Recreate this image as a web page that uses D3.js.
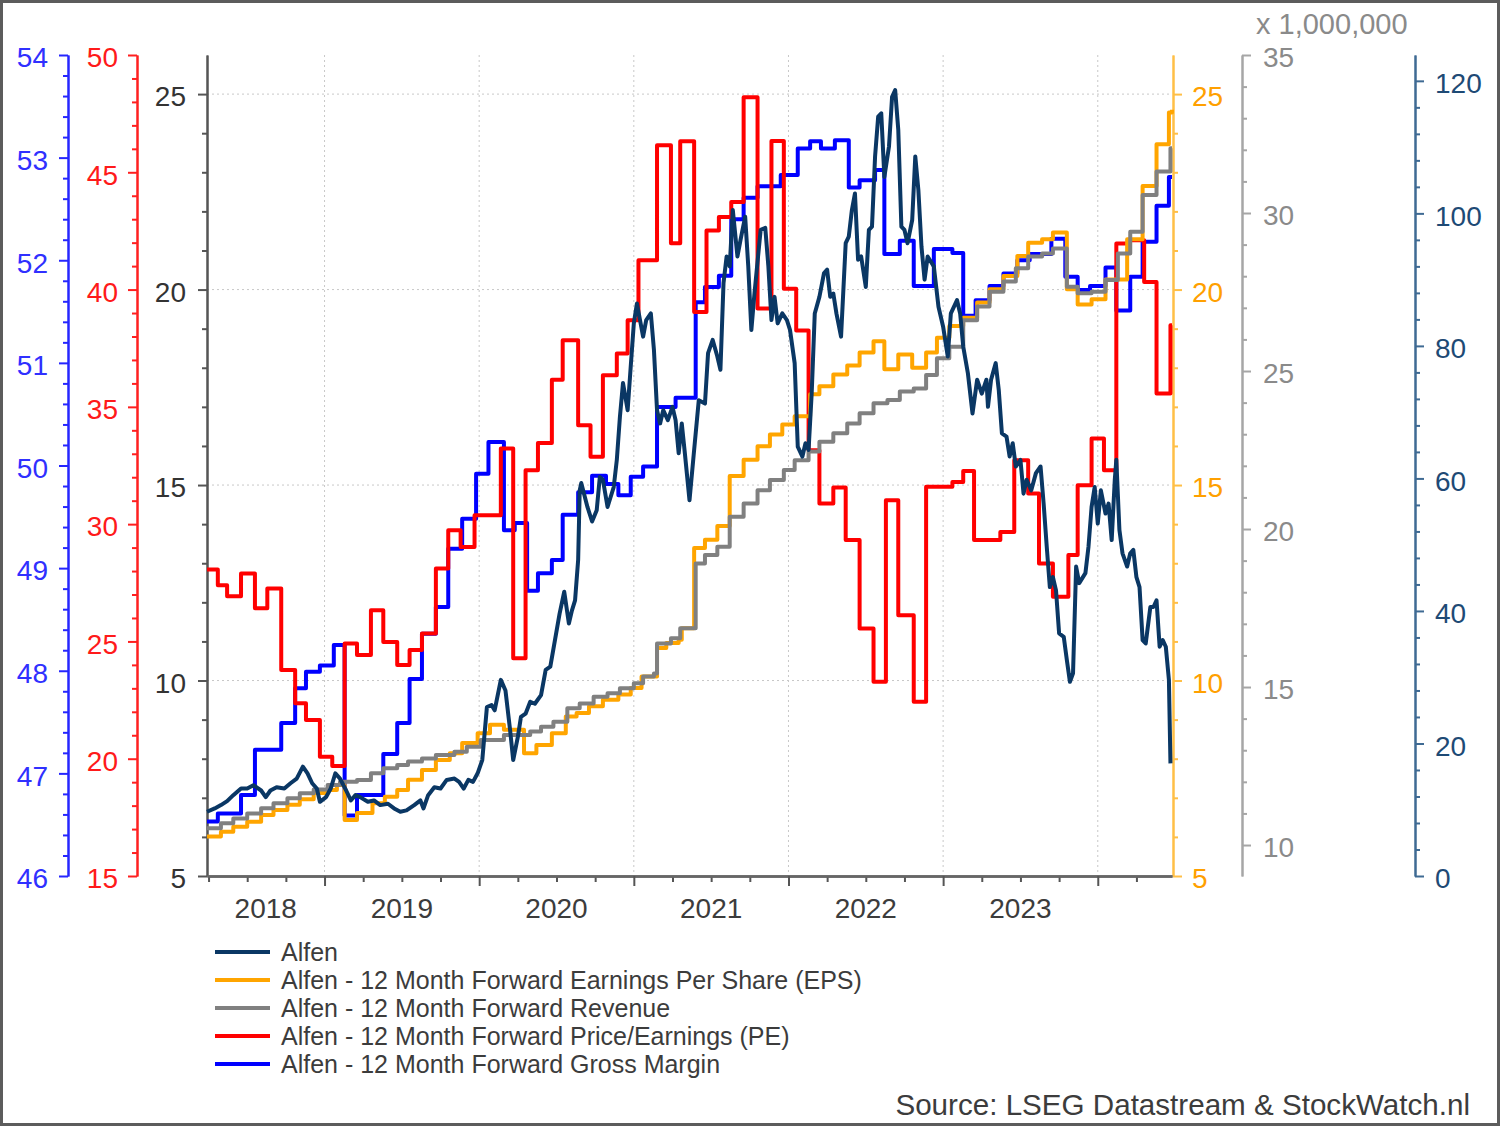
<!DOCTYPE html>
<html lang="en">
<head>
<meta charset="UTF-8">
<title>Alfen</title>
<script src="https://cdn.jsdelivr.net/npm/d3@7"></script>
<style>
body { margin: 0; background: #fff; }
svg text { font-family: "Liberation Sans", Arial, sans-serif; }
</style>
</head>
<body>
<script>
// values: [decimal year, value]
var alfenPrice = [
[2018.24,9.7],[2018.29,10.2],[2018.33,10.7],[2018.37,11.3],[2018.41,12.2],[2018.46,13.2],[2018.50,13.2],[2018.54,13.7],[2018.59,12.9],[2018.62,11.9],[2018.65,12.9],[2018.69,13.4],[2018.74,13.2],[2018.78,14.0],[2018.82,14.7],[2018.86,16.5],[2018.89,15.5],[2018.92,14.0],[2018.95,13.2],[2018.97,11.2],
[2019.01,11.9],[2019.04,13.2],[2019.07,15.5],[2019.10,14.7],[2019.14,12.9],[2019.17,11.4],[2019.20,12.2],[2019.23,11.9],[2019.28,11.2],[2019.32,11.4],[2019.36,10.7],[2019.41,10.9],[2019.45,10.2],[2019.49,9.7],[2019.53,9.9],[2019.58,10.7],[2019.62,11.4],[2019.64,10.2],[2019.67,12.2],[2019.71,13.4],[2019.75,13.2],[2019.79,14.5],[2019.84,14.7],[2019.87,14.2],[2019.90,13.2],[2019.93,14.5],[2019.96,14.2],[2019.99,15.5],
[2020.02,17.5],[2020.05,25.5],[2020.08,25.8],[2020.10,25.0],[2020.14,29.6],[2020.17,28.0],[2020.20,22.0],[2020.22,17.5],[2020.25,21.0],[2020.27,24.0],[2020.30,24.5],[2020.33,26.3],[2020.36,26.0],[2020.40,27.3],[2020.43,31.1],[2020.46,31.6],[2020.49,35.6],[2020.52,39.6],[2020.55,42.9],[2020.58,38.1],[2020.60,40.1],[2020.62,41.6],[2020.64,47.7],[2020.65,58.2],[2020.66,59.3],[2020.70,55.7],[2020.73,53.5],[2020.76,55.2],[2020.78,60.2],[2020.80,59.8],[2020.83,55.7],[2020.85,57.2],[2020.87,58.7],[2020.89,62.8],[2020.91,69.3],[2020.93,74.4],[2020.96,70.3],[2020.98,76.9],
[2021.00,83.4],[2021.02,86.4],[2021.04,83.9],[2021.06,81.4],[2021.08,83.9],[2021.11,84.9],[2021.13,79.4],[2021.15,70.3],[2021.17,68.3],[2021.19,70.3],[2021.22,68.8],[2021.25,70.8],[2021.27,68.8],[2021.29,63.8],[2021.31,68.3],[2021.33,63.8],[2021.36,56.7],[2021.39,64.3],[2021.42,71.8],[2021.46,71.3],[2021.48,78.9],[2021.51,80.9],[2021.54,78.4],[2021.56,76.4],[2021.58,89.5],[2021.60,93.5],[2021.62,92.0],[2021.64,100.5],[2021.67,93.5],[2021.69,96.0],[2021.72,99.5],[2021.74,92.0],[2021.76,82.4],[2021.78,87.9],[2021.82,97.5],[2021.85,97.8],[2021.87,92.0],[2021.89,83.9],[2021.91,87.4],[2021.93,83.4],[2021.96,84.9],[2021.99,83.9],
[2022.01,82.4],[2022.04,77.4],[2022.06,64.8],[2022.09,63.3],[2022.11,65.3],[2022.13,64.3],[2022.15,72.8],[2022.17,84.9],[2022.20,87.4],[2022.23,91.0],[2022.25,91.5],[2022.27,87.4],[2022.29,87.9],[2022.31,84.9],[2022.34,81.4],[2022.37,95.5],[2022.39,96.5],[2022.41,100.5],[2022.43,103.0],[2022.45,93.0],[2022.47,93.5],[2022.50,88.9],[2022.52,97.5],[2022.54,98.0],[2022.56,108.6],[2022.58,114.6],[2022.60,115.1],[2022.62,105.5],[2022.65,110.1],[2022.67,117.6],[2022.69,118.6],[2022.71,112.6],[2022.73,98.0],[2022.75,97.5],[2022.77,95.5],[2022.80,99.0],[2022.82,108.6],[2022.84,103.5],[2022.86,95.0],[2022.88,90.0],[2022.90,93.5],[2022.94,92.0],[2022.97,85.9],
[2023.00,82.9],[2023.03,78.4],[2023.05,84.9],[2023.09,86.9],[2023.11,84.9],[2023.13,79.9],[2023.16,75.9],[2023.19,69.8],[2023.22,74.9],[2023.25,72.8],[2023.28,74.9],[2023.29,70.8],[2023.31,74.9],[2023.34,77.4],[2023.36,73.3],[2023.38,66.8],[2023.41,66.3],[2023.43,63.3],[2023.45,65.3],[2023.47,61.8],[2023.50,62.8],[2023.52,57.7],[2023.54,59.8],[2023.57,58.2],[2023.60,60.8],[2023.63,61.8],[2023.65,56.2],[2023.67,49.7],[2023.69,43.6],[2023.71,45.1],[2023.73,43.1],[2023.75,36.6],[2023.78,36.1],[2023.80,32.6],[2023.82,29.3],[2023.84,30.6],[2023.86,46.7],[2023.88,44.2],[2023.92,45.7],[2023.94,49.7],[2023.96,55.7],[2023.98,58.7],
[2024.00,53.2],[2024.02,58.2],[2024.05,54.7],[2024.07,56.2],[2024.09,50.7],[2024.11,59.8],[2024.12,62.8],[2024.14,52.2],[2024.16,48.7],[2024.19,46.7],[2024.21,48.7],[2024.23,49.2],[2024.25,45.1],[2024.27,43.6],[2024.29,35.6],[2024.31,35.1],[2024.34,40.6],[2024.36,40.6],[2024.38,41.6],[2024.40,34.6],[2024.42,35.6],[2024.44,34.6],[2024.46,29.6],[2024.47,17.0]
];

var epsForward = [
[2018.24,6.01],[2018.33,6.13],[2018.41,6.26],[2018.50,6.39],[2018.59,6.56],[2018.67,6.69],[2018.76,6.82],[2018.84,6.96],[2018.93,7.12],[2019.02,7.20],[2019.08,7.33],[2019.13,6.43],[2019.21,6.61],[2019.31,6.86],[2019.39,7.03],[2019.47,7.20],[2019.54,7.46],[2019.63,7.71],[2019.72,7.97],[2019.81,8.14],[2019.89,8.40],[2019.99,8.65],
[2020.07,8.87],[2020.16,8.74],[2020.29,8.14],[2020.37,8.35],[2020.47,8.65],[2020.56,9.08],[2020.63,9.17],[2020.71,9.34],[2020.80,9.51],[2020.90,9.64],[2020.98,9.81],[2021.05,10.10],[2021.15,10.83],[2021.21,10.96],[2021.29,11.04],[2021.31,11.34],[2021.39,13.39],[2021.46,13.60],[2021.54,13.95],[2021.62,15.23],[2021.71,15.65],[2021.80,15.99],[2021.88,16.29],[2021.96,16.55],
[2022.04,16.76],[2022.14,17.32],[2022.20,17.53],[2022.29,17.83],[2022.38,18.06],[2022.46,18.39],[2022.55,18.68],[2022.62,17.96],[2022.71,18.34],[2022.80,18.00],[2022.89,18.39],[2022.96,18.77],[2023.04,19.07],[2023.13,19.28],[2023.22,19.67],[2023.30,20.01],[2023.39,20.35],[2023.48,20.86],[2023.55,21.20],[2023.64,21.29],[2023.71,21.46],[2023.80,20.01],[2023.87,19.62],[2023.96,19.75],
[2024.05,20.26],[2024.19,21.29],[2024.29,22.65],[2024.38,23.72],[2024.46,24.53],[2024.48,24.60]
];

// revenue in millions
var revenueForward = [
[2018.24,10.53],[2018.33,10.69],[2018.41,10.84],[2018.50,11.00],[2018.59,11.16],[2018.67,11.32],[2018.76,11.48],[2018.84,11.64],[2018.93,11.76],[2019.02,11.90],[2019.10,12.00],[2019.21,12.06],[2019.30,12.27],[2019.38,12.43],[2019.47,12.53],[2019.54,12.64],[2019.63,12.74],[2019.72,12.85],[2019.84,12.95],[2019.92,13.11],
[2020.01,13.32],[2020.16,13.48],[2020.33,13.59],[2020.40,13.74],[2020.48,13.90],[2020.57,14.33],[2020.65,14.48],[2020.74,14.69],[2020.83,14.80],[2020.91,14.96],[2021.00,15.12],[2021.06,15.33],[2021.13,15.43],[2021.15,16.38],[2021.24,16.54],[2021.30,16.86],[2021.40,18.91],[2021.46,19.18],[2021.54,19.44],[2021.62,20.39],[2021.71,20.81],[2021.80,21.23],[2021.88,21.55],[2021.97,21.87],
[2022.04,22.18],[2022.13,22.45],[2022.20,22.76],[2022.29,23.03],[2022.38,23.34],[2022.46,23.66],[2022.55,23.98],[2022.64,24.08],[2022.72,24.35],[2022.81,24.45],[2022.89,24.87],[2022.96,25.40],[2023.04,25.77],[2023.13,26.61],[2023.22,27.04],[2023.30,27.51],[2023.39,27.83],[2023.47,28.25],[2023.55,28.62],[2023.64,28.72],[2023.71,28.88],[2023.80,27.67],[2023.87,27.46],[2023.96,27.51],
[2024.05,27.88],[2024.13,28.72],[2024.21,29.41],[2024.29,30.57],[2024.38,31.31],[2024.47,32.05],[2024.48,32.05]
];

var peForward = [
[2018.24,28.07],[2018.31,27.40],[2018.37,26.93],[2018.46,27.90],[2018.55,26.41],[2018.63,27.26],[2018.72,23.78],[2018.81,22.36],[2018.88,21.65],[2018.97,20.08],[2019.05,19.69],[2019.13,24.91],[2019.21,24.42],[2019.30,26.33],[2019.38,24.98],[2019.47,23.99],[2019.55,24.63],[2019.63,25.34],[2019.72,28.11],[2019.80,29.74],[2019.88,29.03],[2019.97,30.38],
[2020.14,33.22],[2020.22,24.28],[2020.30,32.30],[2020.38,33.46],[2020.47,36.16],[2020.54,37.84],[2020.64,34.22],[2020.72,32.87],[2020.80,36.35],[2020.89,37.27],[2020.96,38.69],[2021.03,41.25],[2021.15,46.15],[2021.24,41.97],[2021.30,46.32],[2021.39,39.04],[2021.47,42.52],[2021.55,43.09],[2021.63,43.73],[2021.71,48.20],[2021.80,39.19],[2021.89,46.33],[2021.97,40.04],
[2022.05,38.26],[2022.13,33.15],[2022.20,30.88],[2022.29,31.56],[2022.37,29.32],[2022.46,25.55],[2022.55,23.28],[2022.63,31.02],[2022.71,26.12],[2022.81,22.43],[2022.89,31.59],[2023.06,31.80],[2023.13,32.27],[2023.20,29.32],[2023.37,29.67],[2023.46,32.72],[2023.55,31.31],[2023.62,28.32],[2023.71,26.90],[2023.81,28.68],[2023.87,31.66],[2023.96,33.65],
[2024.04,32.30],[2024.12,41.96],[2024.20,42.10],[2024.30,40.32],[2024.38,35.57],[2024.47,38.48],[2024.48,38.48]
];

var grossMargin = [
[2018.24,46.53],[2018.31,46.61],[2018.46,46.79],[2018.55,47.23],[2018.72,47.49],[2018.81,47.83],[2018.88,47.99],[2018.97,48.05],[2019.06,48.25],[2019.13,46.59],[2019.21,46.79],[2019.38,47.19],[2019.47,47.49],[2019.55,47.92],[2019.63,48.36],[2019.72,48.62],[2019.80,49.19],[2019.89,49.48],[2019.98,49.92],
[2020.06,50.23],[2020.16,49.37],[2020.23,49.44],[2020.31,48.78],[2020.38,48.95],[2020.47,49.08],[2020.54,49.52],[2020.64,49.74],[2020.73,49.90],[2020.82,49.82],[2020.90,49.71],[2020.98,49.89],[2021.06,49.99],[2021.15,50.57],[2021.27,50.66],[2021.40,51.59],[2021.46,51.74],[2021.55,51.85],[2021.63,52.40],[2021.71,52.61],[2021.80,52.72],[2021.95,52.83],
[2022.06,53.09],[2022.14,53.16],[2022.21,53.09],[2022.30,53.17],[2022.39,52.71],[2022.46,52.78],[2022.56,52.88],[2022.62,52.06],[2022.72,52.19],[2022.81,51.75],[2022.94,52.11],[2023.06,52.07],[2023.13,51.46],[2023.21,51.61],[2023.30,51.75],[2023.39,51.87],[2023.48,52.00],[2023.56,52.06],[2023.70,52.21],[2023.79,51.84],[2023.87,51.71],[2023.95,51.75],
[2024.05,51.93],[2024.12,51.51],[2024.21,51.84],[2024.29,52.18],[2024.38,52.53],[2024.46,52.81],[2024.48,52.81]
];

var yearLabels = [2018, 2019, 2020, 2021, 2022, 2023];
var marginTicks = [46, 47, 48, 49, 50, 51, 52, 53, 54];
var peTicks = [15, 20, 25, 30, 35, 40, 45, 50];
var leftTicks = [5, 10, 15, 20, 25];
var epsTicks = [5, 10, 15, 20, 25];
var revenueTicks = [10, 15, 20, 25, 30, 35];
var priceTicks = [0, 20, 40, 60, 80, 100, 120];
var legendLabels = [
    "Alfen",
    "Alfen - 12 Month Forward Earnings Per Share (EPS)",
    "Alfen - 12 Month Forward Revenue",
    "Alfen - 12 Month Forward Price/Earnings (PE)",
    "Alfen - 12 Month Forward Gross Margin"
];
var legendColors = ["#0a3764", "#ffa500", "#808080", "#ff0000", "#0000ff"];

var width = 1500, height = 1126;
var plotLeft = 207, plotRight = 1172, plotTop = 55, plotBottom = 876;
var font = "'Liberation Sans', Arial, sans-serif";

var svg = d3.select("body").append("svg").attr("width", width).attr("height", height);

svg.append("rect")
    .attr("x", 1.5).attr("y", 1.5).attr("width", width - 3).attr("height", height - 3)
    .attr("fill", "#fff").attr("stroke", "#5c5c5c").attr("stroke-width", 3);

var x = d3.scaleLinear().domain([2018.24, 2024.48]).range([plotLeft, plotRight]);
var yLeft = d3.scaleLinear().domain([5, 26]).range([plotBottom, plotTop]);
var yEps = d3.scaleLinear().domain([5, 26]).range([plotBottom, plotTop]);
var yMargin = d3.scaleLinear().domain([46, 54]).range([plotBottom, plotTop]);
var yPE = d3.scaleLinear().domain([15, 50]).range([plotBottom, plotTop]);
var yRev = d3.scaleLinear().domain([9.02, 35]).range([plotBottom, plotTop]);
var yPrice = d3.scaleLinear().domain([0, 123.9]).range([plotBottom, plotTop]);

// gridlines
var grid = svg.append("g").attr("stroke", "#c8c8c8").attr("stroke-width", 1).attr("stroke-dasharray", "2,3");
grid.selectAll("line.h").data([10, 15, 20, 25]).enter().append("line")
    .attr("x1", plotLeft).attr("x2", plotRight)
    .attr("y1", function(d){ return yLeft(d); }).attr("y2", function(d){ return yLeft(d); });
grid.selectAll("line.v").data(d3.range(2019, 2025)).enter().append("line")
    .attr("y1", plotTop).attr("y2", plotBottom)
    .attr("x1", function(d){ return x(d); }).attr("x2", function(d){ return x(d); });

function between(lo, hi, step, skip) {
    return d3.range(lo, hi + 1e-9, step).filter(function(v){
        return skip.every(function(s){ return Math.abs(s - v) > 1e-6; });
    });
}

function yAxis(scale, xpos, side, majors, minors, lineColor, labelColor, pad) {
    var make = side === "left" ? d3.axisLeft : d3.axisRight;
    var g = svg.append("g").attr("transform", "translate(" + xpos + ",0)");
    g.append("g").call(make(scale).tickValues(minors).tickSize(5).tickSizeOuter(0).tickFormat(""));
    g.append("g").call(make(scale).tickValues(majors).tickSize(9).tickSizeOuter(0).tickPadding(pad).tickFormat(d3.format("d")));
    g.selectAll("path.domain").attr("stroke", lineColor).attr("stroke-width", 2);
    g.selectAll(".tick line").attr("stroke", lineColor).attr("stroke-width", 2);
    g.selectAll("text").attr("fill", labelColor).attr("dy", "0.42em").style("font-size", "28px").style("font-family", font);
    return g;
}

yAxis(yMargin, 68, "left", marginTicks, between(46, 54, 0.2, marginTicks), "#2626ff", "#3030ff", 11);
yAxis(yPE, 137, "left", peTicks, between(15, 50, 1, peTicks), "#ff2020", "#ff1a1a", 10);
yAxis(yLeft, 207, "left", leftTicks, between(5, 25.9, 1, leftTicks), "#555", "#333", 12);
yAxis(yEps, 1173, "right", epsTicks, between(5, 25.9, 1, epsTicks), "#ffbf47", "#ffa000", 10);
yAxis(yRev, 1242, "right", revenueTicks, between(10, 35, 1, revenueTicks), "#a6a6a6", "#8a8a8a", 12);
yAxis(yPrice, 1415, "right", priceTicks, between(0, 123, 4, priceTicks), "#3f6a93", "#1e4a75", 11);

svg.append("text")
    .attr("x", 1256).attr("y", 34)
    .attr("fill", "#8a8a8a").style("font-size", "29px").style("font-family", font)
    .text("x 1,000,000");

// x axis
var xg = svg.append("g").attr("transform", "translate(0," + plotBottom + ")");
xg.append("g").call(d3.axisBottom(x).tickValues(between(2018.25, 2024.25, 0.25, d3.range(2019, 2025))).tickSize(6).tickSizeOuter(0).tickFormat(""));
xg.append("g").call(d3.axisBottom(x).tickValues(d3.range(2019, 2025)).tickSize(10).tickSizeOuter(0).tickFormat(""));
xg.selectAll("path.domain").attr("stroke", "#666").attr("stroke-width", 2.5);
xg.selectAll(".tick line").attr("stroke", "#555").attr("stroke-width", 2);
xg.selectAll("text.year").data(yearLabels).enter().append("text")
    .attr("class", "year")
    .attr("x", function(d){ return x((Math.max(d, x.domain()[0]) + Math.min(d + 1, x.domain()[1])) / 2); })
    .attr("y", 42)
    .attr("text-anchor", "middle")
    .attr("fill", "#3c3c3c").style("font-size", "28px").style("font-family", font)
    .text(function(d){ return d; });

// series
function seriesLine(scale, curve) {
    return d3.line()
        .x(function(d){ return x(d[0]); })
        .y(function(d){ return scale(d[1]); })
        .curve(curve);
}

var lines = svg.append("g").attr("fill", "none").attr("stroke-width", 4).attr("stroke-linejoin", "round");
lines.append("path").datum(grossMargin).attr("stroke", "#0000ff").attr("d", seriesLine(yMargin, d3.curveStepAfter));
lines.append("path").datum(peForward).attr("stroke", "#ff0000").attr("d", seriesLine(yPE, d3.curveStepAfter));
lines.append("path").datum(epsForward).attr("stroke", "#ffa500").attr("d", seriesLine(yEps, d3.curveStepAfter));
lines.append("path").datum(revenueForward).attr("stroke", "#808080").attr("d", seriesLine(yRev, d3.curveStepAfter));
lines.append("path").datum(alfenPrice).attr("stroke", "#0a3764").attr("d", seriesLine(yPrice, d3.curveLinear));

// legend
var legend = svg.append("g").selectAll("g").data(legendLabels).enter().append("g")
    .attr("transform", function(d, i){ return "translate(215," + (952 + i * 28) + ")"; });
legend.append("line")
    .attr("x1", 0).attr("x2", 55).attr("y1", 0).attr("y2", 0)
    .attr("stroke-width", 4)
    .attr("stroke", function(d, i){ return legendColors[i]; });
legend.append("text")
    .attr("x", 66).attr("y", 9)
    .attr("fill", "#3c3c3c").style("font-size", "25px").style("font-family", font)
    .text(function(d){ return d; });

svg.append("text")
    .attr("x", 1470).attr("y", 1115)
    .attr("text-anchor", "end")
    .attr("fill", "#3c3c3c").style("font-size", "29.6px").style("font-family", font)
    .text("Source: LSEG Datastream & StockWatch.nl");
</script>
</body>
</html>
